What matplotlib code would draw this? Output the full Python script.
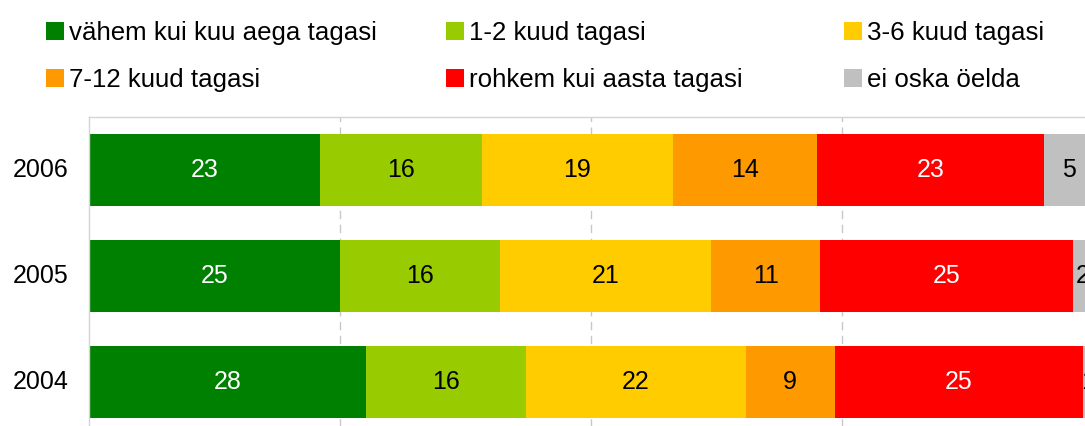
import numpy as np
import matplotlib.pyplot as plt
from matplotlib.patches import Patch

plt.rcParams['font.family'] = ['Liberation Sans', 'DejaVu Sans']

years = ['2006', '2005', '2004']
categories = ['vähem kui kuu aega tagasi', '1-2 kuud tagasi', '3-6 kuud tagasi',
              '7-12 kuud tagasi', 'rohkem kui aasta tagasi', 'ei oska öelda']
# shares (%) per category, rows follow `years`
less_month = [23.0, 25.0, 27.6]
months_1_2 = [16.1, 15.9, 15.9]
months_3_6 = [19.1, 21.1, 21.9]
months_7_12 = [14.3, 10.8, 8.9]
over_year = [22.6, 25.2, 24.7]
dont_know = [5.0, 2.0, 1.0]

series = [less_month, months_1_2, months_3_6, months_7_12, over_year, dont_know]
colors = ['#008000', '#99CC00', '#FFCC00', '#FF9900', '#FF0000', '#C0C0C0']
text_colors = ['white', 'black', 'black', 'black', 'white', 'black']

W, H = 1085, 426
fig = plt.figure(figsize=(W / 100, H / 100), dpi=100)
ax = fig.add_axes([89 / W, -9 / H, 1004 / W, 318 / H])

y = np.arange(len(years))
left = np.zeros(len(years))
for vals, col, tcol in zip(series, colors, text_colors):
    vals = np.array(vals)
    bars = ax.barh(y, vals, left=left, height=0.67, color=col, zorder=2)
    for b, v in zip(bars, vals):
        ax.text(b.get_x() + b.get_width() / 2, b.get_y() + b.get_height() / 2,
                f'{v:.0f}', ha='center', va='center', color=tcol,
                fontsize=18, zorder=3, clip_on=False)
    left += vals

ax.set_xlim(0, 100)
ax.set_ylim(len(years) - 0.5, -0.5)
ax.set_yticks(y)
ax.set_yticklabels(years, fontsize=18, va='center')
ax.tick_params(axis='y', length=0, pad=15)
ax.set_xticks([25, 50, 75])
ax.tick_params(axis='x', length=0, labelbottom=False)
ax.grid(axis='x', color='#C8C8C8', linestyle=(0, (6, 4)), linewidth=1)
ax.set_axisbelow(True)
for s in ['right', 'bottom']:
    ax.spines[s].set_visible(False)
for s in ['left', 'top']:
    ax.spines[s].set_color('#D4D4D4')
    ax.spines[s].set_linewidth(1)

# legend: three columns, two rows
handles = [Patch(facecolor=c, edgecolor='none') for c in colors]
col_x = [46, 446, 844]
for i, x0 in enumerate(col_x):
    idx = [i, i + 3]
    fig.legend([handles[j] for j in idx], [categories[j] for j in idx],
               loc='upper left', bbox_to_anchor=(x0 / W, 1 - 21 / H),
               frameon=False, fontsize=18.6, handlelength=0.7, handleheight=0.7,
               handletextpad=0.2, labelspacing=0.88, borderpad=0, borderaxespad=0)

fig.savefig('out.png', dpi=100)
